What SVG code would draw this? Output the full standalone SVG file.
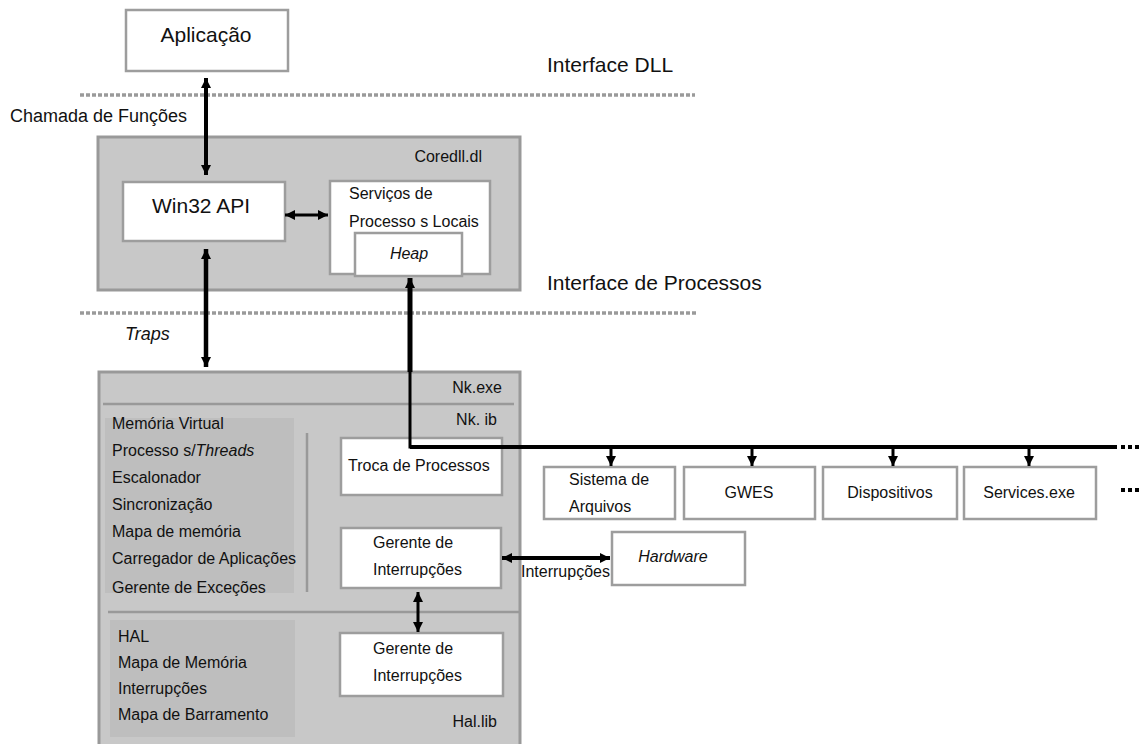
<svg xmlns="http://www.w3.org/2000/svg" width="1146" height="744" viewBox="0 0 1146 744">
  <defs>
    <marker id="head" markerUnits="userSpaceOnUse" markerWidth="11" markerHeight="11" refX="10" refY="5.5" orient="auto-start-reverse">
      <path d="M0,0.5 L10,5.5 L0,10.5 z" fill="#000"/>
    </marker>
    <style>
      text { font-family: "Liberation Sans", Arial, sans-serif; fill: #111; }
      .big { font-size: 21px; }
      .lbl { font-size: 21px; }
      .mid { font-size: 18px; }
      .sm { font-size: 16px; }
      .it { font-style: italic; }
      .mod { fill: #c8c8c8; stroke: #999; stroke-width: 3; }
      .panel { fill: #bebebe; }
      .box { fill: #fff; stroke: #9d9d9d; stroke-width: 2.5; }
      .sep { stroke: #999; stroke-width: 2.5; fill: none; }
      .iface { stroke: #9a9a9a; stroke-width: 3.5; stroke-dasharray: 4 2; fill: none; }
      .link { stroke: #000; fill: none; }
      .dots { stroke: #000; stroke-width: 4; stroke-dasharray: 4 3; }
    </style>
  </defs>

  <!-- interface boundaries -->
  <g id="interfaces">
    <line class="iface" x1="80" y1="95" x2="695" y2="95"/>
    <line class="iface" x1="80" y1="313" x2="697" y2="313"/>
    <text class="lbl" x="547" y="72">Interface DLL</text>
    <text class="lbl" x="547" y="290">Interface de Processos</text>
    <text class="mid" x="10" y="122">Chamada de Funções</text>
    <text class="mid it" x="125" y="340">Traps</text>
  </g>

  <g id="aplicacao">
    <rect class="box" x="126" y="10" width="162" height="61"/>
    <text class="big" x="206" y="42" text-anchor="middle">Aplicação</text>
  </g>

  <!-- coredll.dll module -->
  <g id="coredll">
    <rect class="mod" x="98" y="137" width="422" height="153"/>
    <text class="sm" x="482" y="162" text-anchor="end">Coredll.dl</text>
  </g>
  <g id="win32">
    <rect class="box" x="123" y="182" width="162" height="59"/>
    <text class="big" x="201" y="213" text-anchor="middle">Win32 API</text>
  </g>
  <g id="servicos">
    <rect class="box" x="330" y="181" width="160" height="93"/>
    <text class="sm" x="349" y="199">Serviços de</text>
    <text class="sm" x="349" y="227">Processo s Locais</text>
  </g>
  <g id="heap">
    <rect class="box" x="355" y="233" width="107" height="43"/>
    <text class="sm it" x="409" y="259" text-anchor="middle">Heap</text>
  </g>

  <!-- nk.exe module -->
  <g id="nk">
    <rect class="mod" x="99" y="372" width="421" height="380"/>
    <line class="sep" x1="103" y1="404" x2="514" y2="404"/>
    <line class="sep" x1="108" y1="612" x2="519" y2="612"/>
    <line class="sep" x1="307" y1="433" x2="307" y2="592"/>
    <text class="sm" x="502" y="393" text-anchor="end">Nk.exe</text>
    <text class="sm" x="497" y="425" text-anchor="end">Nk. ib</text>
    <text class="sm" x="497" y="727" text-anchor="end">Hal.lib</text>
  </g>
  <g id="kernel-services">
    <rect class="panel" x="105" y="418" width="189" height="175"/>
    <text class="sm" x="112" y="429">Memória Virtual</text>
    <text class="sm" x="112" y="456">Processo s/<tspan class="it">Threads</tspan></text>
    <text class="sm" x="112" y="483">Escalonador</text>
    <text class="sm" x="112" y="510">Sincronização</text>
    <text class="sm" x="112" y="537">Mapa de memória</text>
    <text class="sm" x="112" y="564">Carregador de Aplicações</text>
    <text class="sm" x="112" y="593">Gerente de Exceções</text>
  </g>
  <g id="hal-services">
    <rect class="panel" x="110" y="620" width="185" height="117"/>
    <text class="sm" x="118" y="642">HAL</text>
    <text class="sm" x="118" y="668">Mapa de Memória</text>
    <text class="sm" x="118" y="694">Interrupções</text>
    <text class="sm" x="118" y="720">Mapa de Barramento</text>
  </g>
  <g id="troca">
    <rect class="box" x="341" y="438" width="161" height="57"/>
    <text class="sm" x="348" y="471">Troca de Processos</text>
  </g>
  <g id="gerente-nk">
    <rect class="box" x="341" y="528" width="160" height="60"/>
    <text class="sm" x="373" y="548">Gerente de</text>
    <text class="sm" x="373" y="575">Interrupções</text>
  </g>
  <g id="gerente-hal">
    <rect class="box" x="340" y="633" width="163" height="63"/>
    <text class="sm" x="373" y="654">Gerente de</text>
    <text class="sm" x="373" y="681">Interrupções</text>
  </g>

  <!-- processes on the bus -->
  <g id="filesys">
    <rect class="box" x="544" y="467" width="131" height="52"/>
    <text class="sm" x="569" y="485">Sistema de</text>
    <text class="sm" x="569" y="512">Arquivos</text>
  </g>
  <g id="gwes">
    <rect class="box" x="684" y="467" width="131" height="52"/>
    <text class="sm" x="749" y="498" text-anchor="middle">GWES</text>
  </g>
  <g id="dispositivos">
    <rect class="box" x="823" y="467" width="134" height="52"/>
    <text class="sm" x="890" y="498" text-anchor="middle">Dispositivos</text>
  </g>
  <g id="services">
    <rect class="box" x="964" y="467" width="132" height="52"/>
    <text class="sm" x="1029" y="498" text-anchor="middle">Services.exe</text>
  </g>
  <g id="hardware">
    <rect class="box" x="612" y="532" width="133" height="53"/>
    <text class="sm it" x="673" y="562" text-anchor="middle">Hardware</text>
  </g>

  <!-- connectors -->
  <g id="connectors">
    <line class="link" stroke-width="4" x1="206" y1="78" x2="206" y2="175" marker-start="url(#head)" marker-end="url(#head)"/>
    <line class="link" stroke-width="3" x1="285" y1="215" x2="328" y2="215" marker-start="url(#head)" marker-end="url(#head)"/>
    <line class="link" stroke-width="4.5" x1="206" y1="249" x2="206" y2="367" marker-start="url(#head)" marker-end="url(#head)"/>
    <line class="link" stroke-width="5" x1="410" y1="278" x2="410" y2="372" marker-start="url(#head)"/>
    <polyline class="link" stroke-width="3" points="410,370 410,447 1117,447"/>
    <line class="link" stroke-width="4" x1="410" y1="447" x2="1117" y2="447"/>
    <line class="link" stroke-width="3" x1="611" y1="447" x2="611" y2="466" marker-end="url(#head)"/>
    <line class="link" stroke-width="3" x1="752" y1="447" x2="752" y2="466" marker-end="url(#head)"/>
    <line class="link" stroke-width="3" x1="893" y1="447" x2="893" y2="466" marker-end="url(#head)"/>
    <line class="link" stroke-width="3" x1="1029" y1="447" x2="1029" y2="466" marker-end="url(#head)"/>
    <line class="dots" x1="1121" y1="447" x2="1142" y2="447"/>
    <line class="dots" x1="1121" y1="490" x2="1142" y2="490"/>
    <line class="link" stroke-width="3" x1="418" y1="592" x2="418" y2="632" marker-start="url(#head)" marker-end="url(#head)"/>
    <line class="link" stroke-width="4" x1="502" y1="558" x2="610" y2="558" marker-start="url(#head)" marker-end="url(#head)"/>
    <text class="sm" x="521" y="577">Interrupções</text>
  </g>
</svg>
